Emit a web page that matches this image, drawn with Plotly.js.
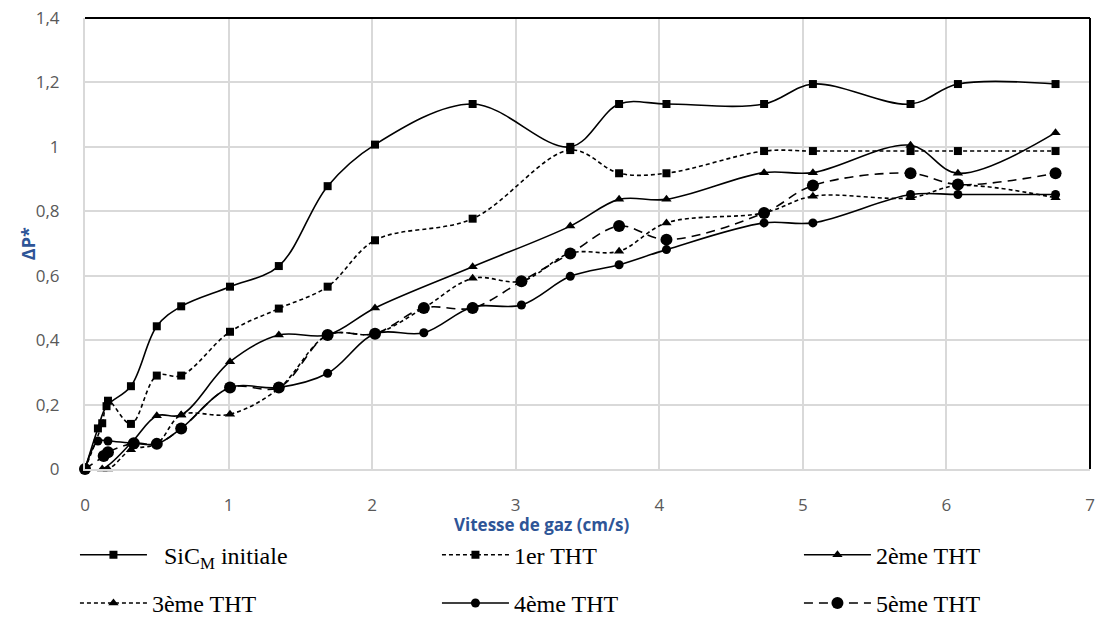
<!DOCTYPE html>
<html>
<head>
<meta charset="utf-8">
<script src="https://cdn.plot.ly/plotly-3.0.1.min.js"></script>
<style>html,body{margin:0;padding:0;background:#fff;}#chart{width:1097px;height:618px;}</style>
</head>
<body>
<div id="chart"></div>
<script>
// ---- data ----
const seriesNames = ["\u00a0\u00a0SiC<sub>M</sub> initiale", "1er THT", "2ème THT", "3ème THT", "4ème THT", "5ème THT"];

const xSiC = [0, 0.09, 0.15, 0.32, 0.50, 0.67, 1.01, 1.35, 1.69, 2.02, 2.70, 3.38, 3.72, 4.05, 4.73, 5.07, 5.75, 6.08, 6.76];
const ySiC = [0, 0.126, 0.195, 0.257, 0.443, 0.505, 0.566, 0.630, 0.878, 1.007, 1.133, 1.000, 1.133, 1.133, 1.133, 1.195, 1.133, 1.195, 1.195];

const x1er = [0, 0.12, 0.16, 0.32, 0.50, 0.67, 1.01, 1.35, 1.69, 2.02, 2.70, 3.38, 3.72, 4.05, 4.73, 5.07, 5.75, 6.08, 6.76];
const y1er = [0, 0.142, 0.212, 0.140, 0.290, 0.290, 0.426, 0.498, 0.566, 0.710, 0.777, 0.990, 0.918, 0.918, 0.987, 0.987, 0.987, 0.987, 0.987];

const x2eme = [0, 0.12, 0.32, 0.50, 0.67, 1.01, 1.35, 1.69, 2.02, 2.70, 3.38, 3.72, 4.05, 4.73, 5.07, 5.75, 6.08, 6.76];
const y2eme = [0, 0, 0.080, 0.165, 0.168, 0.333, 0.416, 0.416, 0.500, 0.628, 0.754, 0.837, 0.837, 0.920, 0.920, 1.005, 0.918, 1.044];

const x3eme = [0, 0.16, 0.32, 0.50, 0.67, 1.01, 1.35, 1.69, 2.02, 2.36, 2.70, 3.04, 3.38, 3.72, 4.05, 4.73, 5.07, 5.75, 6.08, 6.76];
const y3eme = [0, 0, 0.060, 0.078, 0.168, 0.170, 0.250, 0.416, 0.420, 0.500, 0.592, 0.583, 0.670, 0.676, 0.764, 0.795, 0.847, 0.842, 0.880, 0.842];

const x4eme = [0, 0.09, 0.16, 0.34, 0.50, 0.67, 1.01, 1.35, 1.69, 2.02, 2.36, 2.70, 3.04, 3.38, 3.72, 4.05, 4.73, 5.07, 5.75, 6.08, 6.76];
const y4eme = [0, 0.087, 0.087, 0.080, 0.078, 0.126, 0.253, 0.253, 0.297, 0.420, 0.423, 0.503, 0.509, 0.598, 0.634, 0.681, 0.764, 0.764, 0.852, 0.852, 0.852];

const x5eme = [0, 0.13, 0.16, 0.34, 0.50, 0.67, 1.01, 1.35, 1.69, 2.02, 2.36, 2.70, 3.04, 3.38, 3.72, 4.05, 4.73, 5.07, 5.75, 6.08, 6.76];
const y5eme = [0, 0.040, 0.052, 0.080, 0.078, 0.126, 0.253, 0.253, 0.416, 0.420, 0.500, 0.500, 0.583, 0.669, 0.754, 0.712, 0.795, 0.880, 0.918, 0.883, 0.918];

const xTickVals = [0, 1, 2, 3, 4, 5, 6, 7];
const yTickVals = [0, 0.2, 0.4, 0.6, 0.8, 1, 1.2, 1.4];
const xTitle = "Vitesse de gaz (cm/s)";
const yTitle = "ΔP*";

// ---- traces ----
function tr(x, y, name, dash, symbol, size, legend) {
  return {
    x: x, y: y, name: name, type: "scatter", mode: "lines+markers",
    line: {color: "#000000", width: 1.6, dash: dash, shape: "spline", smoothing: 1},
    marker: {color: "#000000", symbol: symbol, size: size},
    legend: legend, cliponaxis: false
  };
}
const data = [
  tr(xSiC, ySiC, seriesNames[0], "solid", "square", 8, "legend"),
  tr(x1er, y1er, seriesNames[1], "4px,3px", "square", 8, "legend"),
  tr(x2eme, y2eme, seriesNames[2], "solid", "triangle-up", 9, "legend"),
  tr(x3eme, y3eme, seriesNames[3], "4px,3px", "triangle-up", 9, "legend2"),
  tr(x4eme, y4eme, seriesNames[4], "solid", "circle", 9, "legend2"),
  tr(x5eme, y5eme, seriesNames[5], "9px,6px", "circle", 12, "legend2")
];

const legFont = {family: "Liberation Serif, Times New Roman, serif", size: 24, color: "#000"};
const legCommon = {orientation: "h", x: -0.01, xanchor: "left", yanchor: "top", entrywidth: 280, entrywidthmode: "pixels",
           itemwidth: 67, font: legFont, bgcolor: "rgba(0,0,0,0)", traceorder: "normal", itemclick: false};
const layout = {
  width: 1097, height: 618,
  margin: {l: 85, r: 7, t: 18, b: 149, autoexpand: false},
  paper_bgcolor: "#fff", plot_bgcolor: "#fff",
  separators: ", ",
  showlegend: true,
  font: {family: "Open Sans, Noto Sans, sans-serif", size: 15, color: "#595959"},
  xaxis: {
    range: [0, 7], tickvals: xTickVals, showgrid: true, gridcolor: "#d9d9d9", gridwidth: 2,
    zeroline: false, showline: true, linecolor: "#d9d9d9", linewidth: 2, ticks: "",
    ticklabelstandoff: 20, tickfont: {size: 17, color: "#595959"}, fixedrange: true
  },
  yaxis: {
    range: [0, 1.4], tickvals: yTickVals, showgrid: true, gridcolor: "#d9d9d9", gridwidth: 2,
    zeroline: false, showline: true, linecolor: "#d9d9d9", linewidth: 2, ticks: "",
    ticklabelstandoff: 20, tickfont: {size: 17, color: "#595959"}, fixedrange: true
  },
  shapes: [
    {type: "line", xref: "paper", yref: "paper", x0: 0, x1: 1, y0: 1, y1: 1, line: {color: "#000", width: 2}},
    {type: "line", xref: "paper", yref: "paper", x0: 1, x1: 1, y0: 0, y1: 1, line: {color: "#000", width: 2}}
  ],
  annotations: [
    {text: "<b>" + xTitle + "</b>", xref: "paper", yref: "paper", x: 0.454, y: -0.124, xanchor: "center", yanchor: "middle",
     showarrow: false, font: {family: "Open Sans, sans-serif", size: 17, color: "#2E5597"}},
    {text: "<b>" + yTitle + "</b>", xref: "paper", yref: "paper", x: -0.057, y: 0.5, xanchor: "center", yanchor: "middle",
     textangle: -90, showarrow: false, font: {family: "Open Sans, sans-serif", size: 18, color: "#2E5597"}}
  ],
  legend: Object.assign({y: -0.141}, legCommon),
  legend2: Object.assign({y: -0.248}, legCommon)
};

Plotly.newPlot("chart", data, layout, {displayModeBar: false, staticPlot: true});
</script>
</body>
</html>
